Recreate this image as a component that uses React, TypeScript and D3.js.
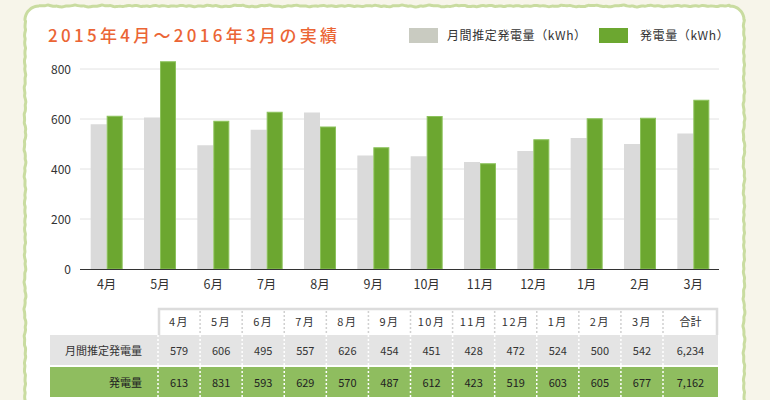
import React from "react";
import * as d3 from "d3";

const months = ["4月", "5月", "6月", "7月", "8月", "9月", "10月", "11月", "12月", "1月", "2月", "3月"];
const estimated = [579, 606, 495, 557, 626, 454, 451, 428, 472, 524, 500, 542];
const actual = [613, 831, 593, 629, 570, 487, 612, 423, 519, 603, 605, 677];
const yTicks = [0, 200, 400, 600, 800];
const seriesNames = ["月間推定発電量（kWh）", "発電量（kWh）"];
const rowLabels = ["月間推定発電量", "発電量"];
const totalLabel = "合計";
const title = "2015年4月～2016年3月の実績";

const W = 770;
const H = 400;
const FONT = "'Noto Sans CJK JP', 'Noto Sans', sans-serif";
const GRAY_BAR = "#dadada";
const GREEN_BAR = "#6ca730";
const TEXT = "#333";

function wavyPath(x0: number, y0: number, x1: number, y1: number, r: number): string {
  const pts: [number, number][] = [];
  const wob = (t: number) => 0.45 * Math.sin(t * 0.23) + 0.35 * Math.sin(t * 0.71 + 1.7) + 0.25 * Math.sin(t * 1.9 + 0.4);
  const steps = 3;
  for (let xx = x0 + r; xx <= x1 - r; xx += steps) pts.push([xx, y0 + wob(xx)]);
  for (let a = -90; a <= 0; a += 10) {
    const rad = (a * Math.PI) / 180;
    pts.push([x1 - r + r * Math.cos(rad), y0 + r + r * Math.sin(rad)]);
  }
  for (let yy = y0 + r; yy <= y1; yy += steps) pts.push([x1 + wob(yy + 50), yy]);
  const back: [number, number][] = [];
  for (let yy = y1; yy >= y0 + r; yy -= steps) back.push([x0 + wob(yy + 120), yy]);
  for (let a = 180; a <= 270; a += 10) {
    const rad = (a * Math.PI) / 180;
    back.push([x0 + r + r * Math.cos(rad), y0 + r + r * Math.sin(rad)]);
  }
  const line = d3.line().curve(d3.curveCatmullRom);
  return line(pts) + " " + line(back);
}

export default function App() {
  const x = d3.scaleBand<string>().domain(months).range([80, 720]).paddingInner(0.4).paddingOuter(0.2);
  const sub = d3.scaleBand<string>().domain(["e", "a"]).range([0, x.bandwidth()]);
  const y = d3.scaleLinear().domain([0, 800]).range([269, 69]);

  const colX = d3.scaleBand<string>().domain(months).range([158, 663]);
  const totalX0 = 663;
  const totalX1 = 718;
  const hdrY0 = 308;
  const hdrY1 = 335;
  const r1Y0 = 335;
  const r1Y1 = 365;
  const r2Y0 = 367;
  const r2Y1 = 397;
  const sep = [...months.map((m) => colX(m)!), totalX0];
  const estTotal = d3.sum(estimated);
  const actTotal = d3.sum(actual);
  const fmt = d3.format(",");

  const outline = wavyPath(25, 6, 744, 420, 14);

  return (
    <svg width={W} height={H} style={{ position: "absolute", left: 0, top: 0 }} fontFamily={FONT}>
      <rect x={0} y={0} width={W} height={H} fill="#f7f5ea" />
      <rect x={25} y={6} width={719} height={420} rx={14} fill="#fff" />
      <path d={outline} fill="none" stroke="#c9dca0" strokeWidth={3} />

      <text x={48} y={42} fill="#eb6535" fontSize={17} letterSpacing={3.3} fontWeight={500}>
        {title}
      </text>

      {/* legend */}
      <rect x={409} y={28} width={29} height={15} fill="#c9cbc1" />
      <text x={447} y={40} fontSize={12} fill={TEXT} letterSpacing={0.6}>{seriesNames[0]}</text>
      <rect x={599} y={28} width={29} height={15} fill={GREEN_BAR} />
      <text x={640} y={40} fontSize={12} fill={TEXT} letterSpacing={0.6}>{seriesNames[1]}</text>

      {/* grid */}
      {yTicks.map((t) => (
        <g key={t}>
          {t > 0 && <line x1={80} x2={719} y1={y(t)} y2={y(t)} stroke="#e2e2e2" strokeWidth={1} />}
          <text x={71} y={y(t) + 4.5} textAnchor="end" fontSize={12} fill={TEXT}>{t}</text>
        </g>
      ))}

      {/* bars */}
      {months.map((m, i) => (
        <g key={m} transform={`translate(${x(m)},0)`}>
          <rect x={sub("e")} y={y(estimated[i])} width={sub.bandwidth()} height={y(0) - y(estimated[i])} fill={GRAY_BAR} />
          <rect x={sub("a")! + 0.5} y={y(actual[i]) + 0.5} width={sub.bandwidth() - 1} height={y(0) - y(actual[i]) - 0.5} fill={GREEN_BAR} stroke="#8cc25c" strokeWidth={1} />
          <text x={x.bandwidth() / 2} y={289} textAnchor="middle" fontSize={12.5} fill={TEXT}>{m}</text>
        </g>
      ))}
      <line x1={80} x2={719} y1={269.5} y2={269.5} stroke="#333" strokeWidth={1.2} />

      {/* table header */}
      <rect x={158} y={hdrY0} width={totalX1 - 158} height={hdrY1 - hdrY0} fill="#fff" />
      <path d={`M${159},${hdrY1} V${hdrY0 + 1} H${totalX1 - 1} V${hdrY1}`} fill="none" stroke="#dcdcdc" strokeWidth={2.5} />
      {sep.slice(1).map((sx, i) => (
        <line key={"hs" + i} x1={sx} x2={sx} y1={hdrY0 + 3} y2={hdrY1} stroke="#d0d0d0" strokeWidth={1.5} strokeDasharray="2,2" />
      ))}
      {months.map((m) => (
        <text key={"h" + m} x={colX(m)! + colX.bandwidth() / 2} y={326} textAnchor="middle" fontSize={11} fill={TEXT} letterSpacing={1.5}>{m}</text>
      ))}
      <text x={(totalX0 + totalX1) / 2} y={326} textAnchor="middle" fontSize={11} fill={TEXT}>{totalLabel}</text>

      {/* rows */}
      <rect x={50} y={r1Y0} width={totalX1 - 50} height={r1Y1 - r1Y0} fill="#e4e4e4" />
      <rect x={50} y={r2Y0} width={totalX1 - 50} height={r2Y1 - r2Y0} fill="#8fbd5f" />
      {sep.map((sx, i) => (
        <g key={"rs" + i}>
          <line x1={sx} x2={sx} y1={r1Y0} y2={r1Y1} stroke="#fff" strokeWidth={1.5} strokeDasharray="2,2" />
          <line x1={sx} x2={sx} y1={r2Y0} y2={r2Y1} stroke="#fff" strokeWidth={1.5} strokeDasharray="2,2" />
        </g>
      ))}
      <text x={142} y={355} textAnchor="end" fontSize={11} fill={TEXT}>{rowLabels[0]}</text>
      <text x={142} y={387} textAnchor="end" fontSize={11} fill="#222">{rowLabels[1]}</text>
      {months.map((m, i) => (
        <g key={"v" + m}>
          <text x={colX(m)! + colX.bandwidth() / 2} y={355} textAnchor="middle" fontSize={11} fill={TEXT}>{estimated[i]}</text>
          <text x={colX(m)! + colX.bandwidth() / 2} y={387} textAnchor="middle" fontSize={11} fill="#222">{actual[i]}</text>
        </g>
      ))}
      <text x={(totalX0 + totalX1) / 2} y={355} textAnchor="middle" fontSize={11} fill={TEXT}>{fmt(estTotal)}</text>
      <text x={(totalX0 + totalX1) / 2} y={387} textAnchor="middle" fontSize={11} fill="#222">{fmt(actTotal)}</text>
    </svg>
  );
}
